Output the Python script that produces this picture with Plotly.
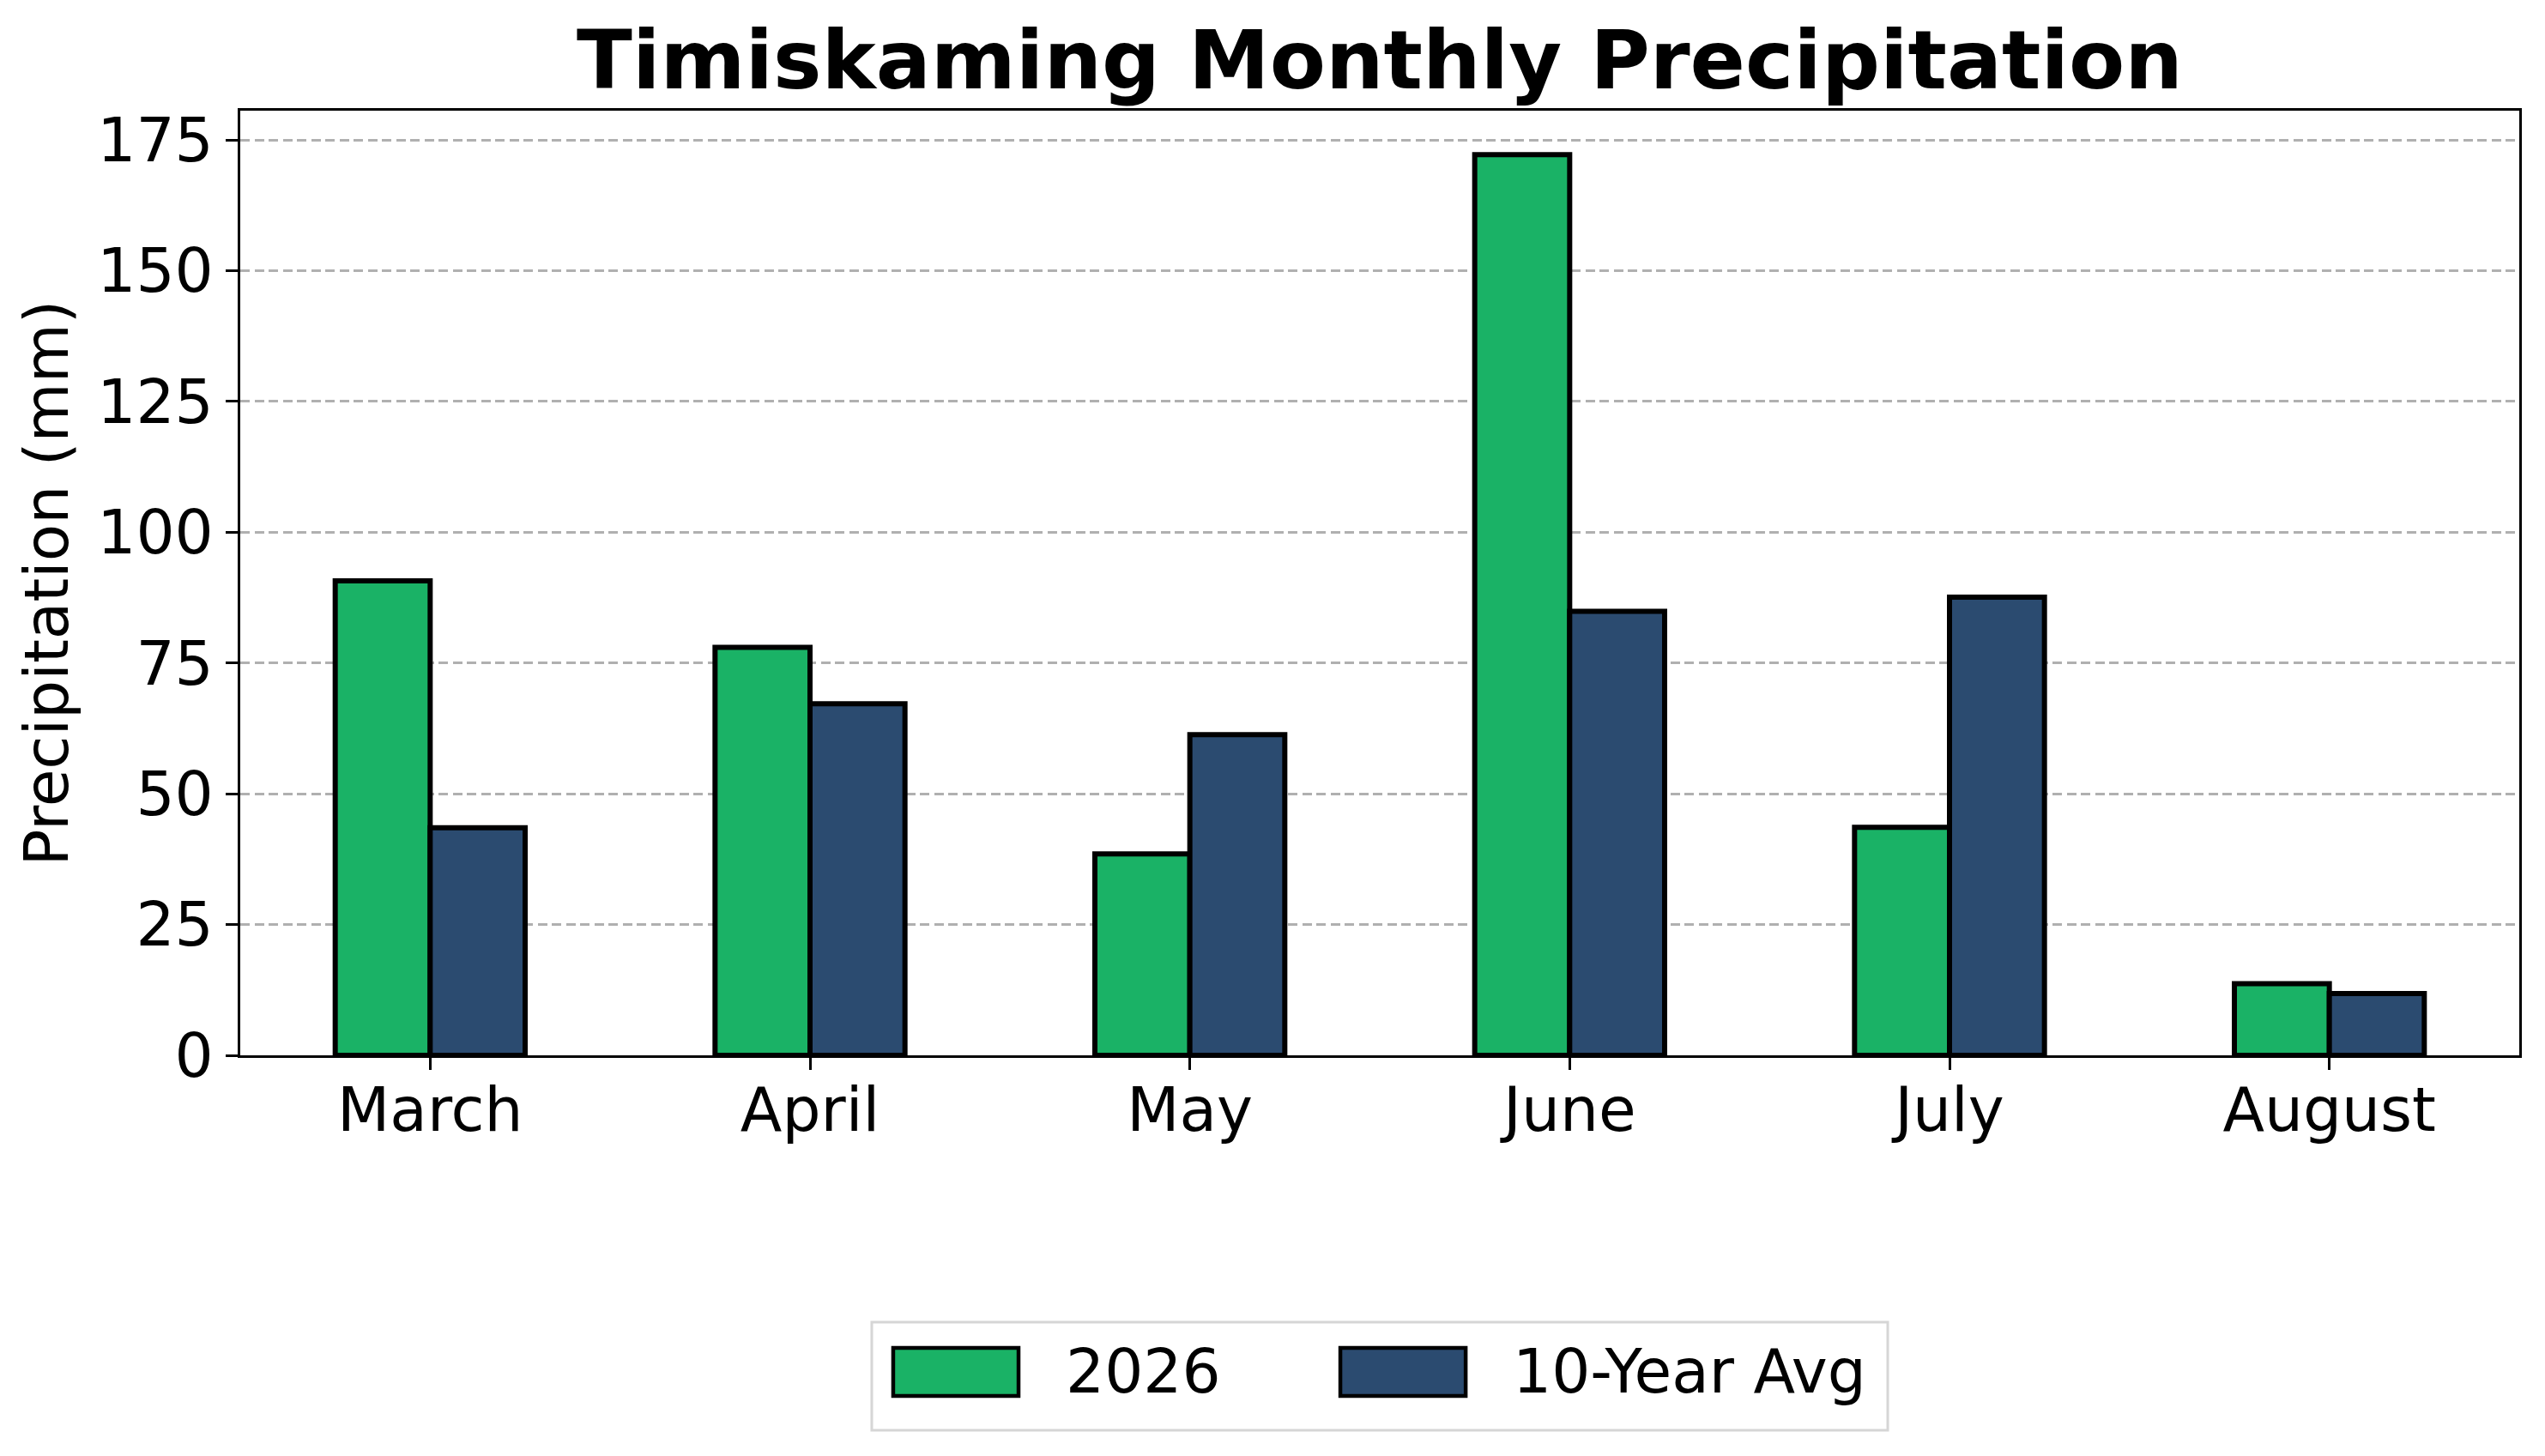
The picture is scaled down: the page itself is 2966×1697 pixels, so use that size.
import plotly.graph_objects as go

# monthly precipitation values (mm)
months = ["March", "April", "May", "June", "July", "August"]
precip_2026 = [90.7, 78.0, 38.5, 172.2, 43.6, 13.7]
precip_avg = [43.5, 67.2, 61.3, 84.9, 87.6, 11.8]

series_names = ["2026", "10-Year Avg"]
series_colors = ["#1AB266", "#2B4B70"]

FONT = "DejaVu Sans"

fig = go.Figure()
for name, vals, col in zip(series_names, [precip_2026, precip_avg], series_colors):
    fig.add_trace(go.Bar(
        x=months, y=vals, name=name, showlegend=False,
        marker=dict(color=col, line=dict(color="black", width=6)),
    ))

# page body has an 8px margin, so the plot margins are shifted to compensate
fig.update_layout(
    width=2966, height=1697,
    margin=dict(l=272, r=38, t=121, b=475),
    paper_bgcolor="white", plot_bgcolor="white",
    font=dict(family=FONT, size=71, color="black"),
    barmode="group", bargap=0.5, bargroupgap=0,
    title=dict(
        text="<b>Timiskaming Monthly Precipitation</b>",
        font=dict(family=FONT, size=95, color="black"),
        x=0.5, xref="paper", xanchor="center",
        y=1 - 62 / 1697, yref="container", yanchor="middle",
    ),
)

# legend drawn below the plot, matplotlib style (big swatches, light frame)
fig.add_shape(type="rect", xref="paper", yref="paper",
              x0=0.2771, x1=0.7229, y0=-0.3969, y1=-0.2825,
              line=dict(color="#d6d6d6", width=3), fillcolor="white", layer="above")
swatch_x = [0.2865, 0.4827]
text_x = [0.3615, 0.5577]
for name, col, sx, tx in zip(series_names, series_colors, swatch_x, text_x):
    fig.add_shape(type="rect", xref="paper", yref="paper",
                  x0=sx, x1=sx + 0.055, y0=-0.3606, y1=-0.3097,
                  line=dict(color="black", width=4.5), fillcolor=col, layer="above")
    fig.add_annotation(text=name, xref="paper", yref="paper", x=tx, y=-0.3351,
                       xanchor="left", yanchor="middle", showarrow=False,
                       font=dict(family=FONT, size=71, color="black"))

fig.update_xaxes(
    range=[-0.5, 5.5],
    showline=True, linecolor="black", linewidth=3, mirror=True,
    ticks="outside", ticklen=14, tickwidth=3, tickcolor="black",
    ticklabelstandoff=-14,
    showgrid=False,
)
fig.update_yaxes(
    range=[0, 180.6],
    tickvals=[0, 25, 50, 75, 100, 125, 150, 175],
    showline=True, linecolor="black", linewidth=3, mirror=True,
    ticks="outside", ticklen=14, tickwidth=3, tickcolor="black",
    showgrid=True, gridcolor="#b0b0b0", gridwidth=2.8, griddash="11px,5.5px",
    zeroline=False,
    title=dict(text="Precipitation (mm)", font=dict(family=FONT, size=71), standoff=11),
)

fig.write_html("out.html")
